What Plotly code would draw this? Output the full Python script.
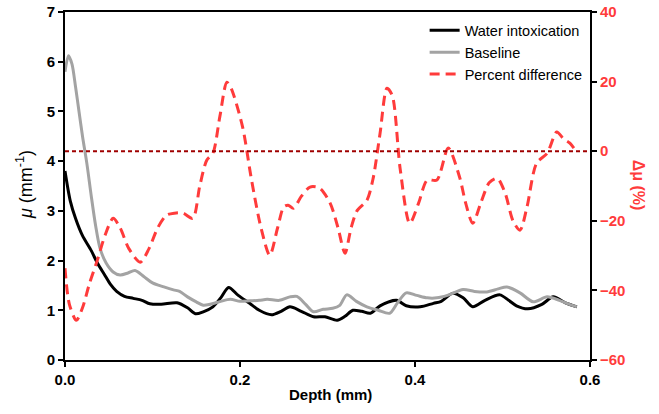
import plotly.graph_objects as go

# Water intoxication (black)
wi_x = [0, 0.006, 0.012, 0.02, 0.03, 0.037, 0.045, 0.052, 0.059, 0.068, 0.078, 0.088, 0.097, 0.11,
        0.128, 0.14, 0.149, 0.158, 0.169, 0.178, 0.187, 0.198, 0.211, 0.222, 0.236, 0.247, 0.257,
        0.27, 0.284, 0.297, 0.311, 0.32, 0.329, 0.339, 0.349, 0.36, 0.379, 0.39, 0.406, 0.421, 0.43,
        0.443, 0.455, 0.466, 0.48, 0.497, 0.507, 0.516, 0.529, 0.545, 0.558, 0.572, 0.585]
wi_y = [3.8, 3.2, 2.85, 2.5, 2.2, 1.95, 1.72, 1.52, 1.38, 1.28, 1.24, 1.2, 1.13, 1.12,
        1.15, 1.05, 0.93, 0.97, 1.07, 1.25, 1.46, 1.3, 1.14, 1.0, 0.91, 0.98, 1.07,
        0.98, 0.87, 0.87, 0.80, 0.88, 1.0, 0.98, 0.94, 1.09, 1.2, 1.09, 1.07, 1.14, 1.18,
        1.34, 1.25, 1.07, 1.2, 1.31, 1.2, 1.09, 1.03, 1.12, 1.27, 1.15, 1.07]

# Baseline (gray)
bl_x = [0, 0.004, 0.008, 0.012, 0.016, 0.02, 0.025, 0.03, 0.035, 0.04, 0.047, 0.055, 0.063, 0.072,
        0.08, 0.09, 0.1, 0.113, 0.124, 0.131, 0.14, 0.15, 0.158, 0.166, 0.178, 0.189, 0.2, 0.211,
        0.222, 0.231, 0.245, 0.257, 0.265, 0.275, 0.284, 0.295, 0.306, 0.314, 0.322, 0.333, 0.345,
        0.358, 0.371, 0.38, 0.39, 0.402, 0.414, 0.425, 0.437, 0.455, 0.468, 0.482, 0.495, 0.505,
        0.52, 0.535, 0.551, 0.565, 0.575, 0.585]
bl_y = [5.8, 6.12, 5.95, 5.5, 5.0, 4.5, 3.95, 3.3, 2.7, 2.25, 1.95, 1.77, 1.71, 1.75,
        1.8, 1.68, 1.55, 1.47, 1.41, 1.38, 1.27, 1.17, 1.1, 1.12, 1.18, 1.22, 1.18, 1.19,
        1.2, 1.22, 1.2, 1.27, 1.28, 1.12, 0.97, 1.02, 1.04, 1.1, 1.31, 1.18, 1.07,
        1.0, 0.94, 1.15, 1.35, 1.3, 1.25, 1.25, 1.3, 1.42, 1.38, 1.37, 1.43, 1.47,
        1.35, 1.17, 1.27, 1.2, 1.13, 1.07]

# Percent difference (red, right axis)
pd_x = [0, 0.005, 0.013, 0.02, 0.028, 0.037, 0.046, 0.055, 0.063, 0.073, 0.086, 0.096, 0.106,
        0.116, 0.125, 0.135, 0.146, 0.154, 0.162, 0.169, 0.177, 0.185, 0.19, 0.203, 0.213, 0.224,
        0.234, 0.243, 0.25, 0.255, 0.261, 0.27, 0.28, 0.291, 0.303, 0.312, 0.32, 0.327, 0.334,
        0.345, 0.352, 0.36, 0.368, 0.374, 0.383, 0.394, 0.404, 0.414, 0.425, 0.438, 0.451, 0.458,
        0.466, 0.475, 0.485, 0.494, 0.503, 0.512, 0.52, 0.528, 0.539, 0.551, 0.562, 0.57, 0.577, 0.585]
pd_y = [-33.6, -44, -48.6, -45, -38, -31.3, -24, -19.3, -22, -28, -31.9, -28, -22,
        -18.4, -17.8, -17.8, -19.3, -10, -2.6, -0.6, 10, 19.8, 18, 6.9, -8, -22,
        -29.9, -22, -16, -15.5, -16.4, -13, -10.3, -10.6, -14.9, -22, -29.3, -22, -17,
        -14.1, -8, 5, 18.1, 16, -5, -20.7, -15, -8.3, -8.3, 0.9, -7.5, -15,
        -20.7, -15, -9, -7.8, -12, -20, -22.7, -16, -3.4, -0.6, 5.5, 3.5, 2.3, -0.3]

x_ticks = [0, 0.2, 0.4, 0.6]
x_tick_labels = ["0.0", "0.2", "0.4", "0.6"]

FONT = "Liberation Sans, Arial, sans-serif"
RED = "#FF3B3B"

fig = go.Figure()
fig.add_trace(go.Scatter(x=wi_x, y=wi_y, mode="lines", name="Water intoxication",
                         line=dict(color="black", width=3, shape="spline", smoothing=0.8)))
fig.add_trace(go.Scatter(x=bl_x, y=bl_y, mode="lines", name="Baseline",
                         line=dict(color="#A3A3A3", width=3, shape="spline", smoothing=0.8)))
fig.add_trace(go.Scatter(x=pd_x, y=pd_y, mode="lines", name="Percent difference", yaxis="y2",
                         line=dict(color=RED, width=3, dash="10px,6px", shape="spline", smoothing=0.8)))
fig.add_trace(go.Scatter(x=[0, 0.6], y=[0, 0], mode="lines", yaxis="y2", showlegend=False,
                         line=dict(color="#A00000", width=2, dash="4px,3px")))

fig.update_layout(
    width=659, height=414,
    margin=dict(l=65, r=69, t=12, b=54),
    paper_bgcolor="white", plot_bgcolor="white",
    font=dict(family=FONT, color="black"),
    showlegend=True,
    legend=dict(x=0.685, y=0.993, xanchor="left", yanchor="top", bgcolor="rgba(0,0,0,0)",
                font=dict(size=14.5, family=FONT), tracegroupgap=0, itemwidth=30),
    xaxis=dict(range=[0, 0.6], tickvals=x_ticks, ticktext=x_tick_labels, showline=True,
               linecolor="black", linewidth=2, mirror=True, ticks="outside", ticklen=5,
               tickwidth=2, tickcolor="black", showgrid=False, zeroline=False, automargin=False,
               tickfont=dict(size=15, family=FONT, weight="bold")),
    yaxis=dict(range=[0, 7], dtick=1, showline=True, linecolor="black", linewidth=2,
               ticks="outside", ticklen=5, tickwidth=2, tickcolor="black", showgrid=False,
               zeroline=False, automargin=False, tickfont=dict(size=15, family=FONT, weight="bold")),
    yaxis2=dict(range=[-60, 40], dtick=20, overlaying="y", side="right", showline=True,
                linecolor="black", linewidth=2, ticks="outside", ticklen=5, tickwidth=2,
                tickcolor="black", showgrid=False, zeroline=False, automargin=False,
                tickfont=dict(size=15, family=FONT, color=RED, weight="bold")),
    annotations=[
        dict(text="<b>Depth (mm)</b>", xref="paper", yref="paper", x=0.505, y=-0.1,
             xanchor="center", yanchor="middle", showarrow=False,
             font=dict(size=15, family=FONT, color="black")),
        dict(text="<i>μ</i> (mm<sup>-1</sup>)", xref="paper", yref="paper", x=-0.076, y=0.503,
             xanchor="center", yanchor="middle", showarrow=False, textangle=-90,
             font=dict(size=18, family=FONT, color="black")),
        dict(text="<b>Δμ (%)</b>", xref="paper", yref="paper", x=1.092, y=0.503,
             xanchor="center", yanchor="middle", showarrow=False, textangle=90,
             font=dict(size=16, family=FONT, color=RED)),
    ],
)

fig.write_html("out.html", config={"displayModeBar": False},
               post_script="document.body.style.margin='0';")
